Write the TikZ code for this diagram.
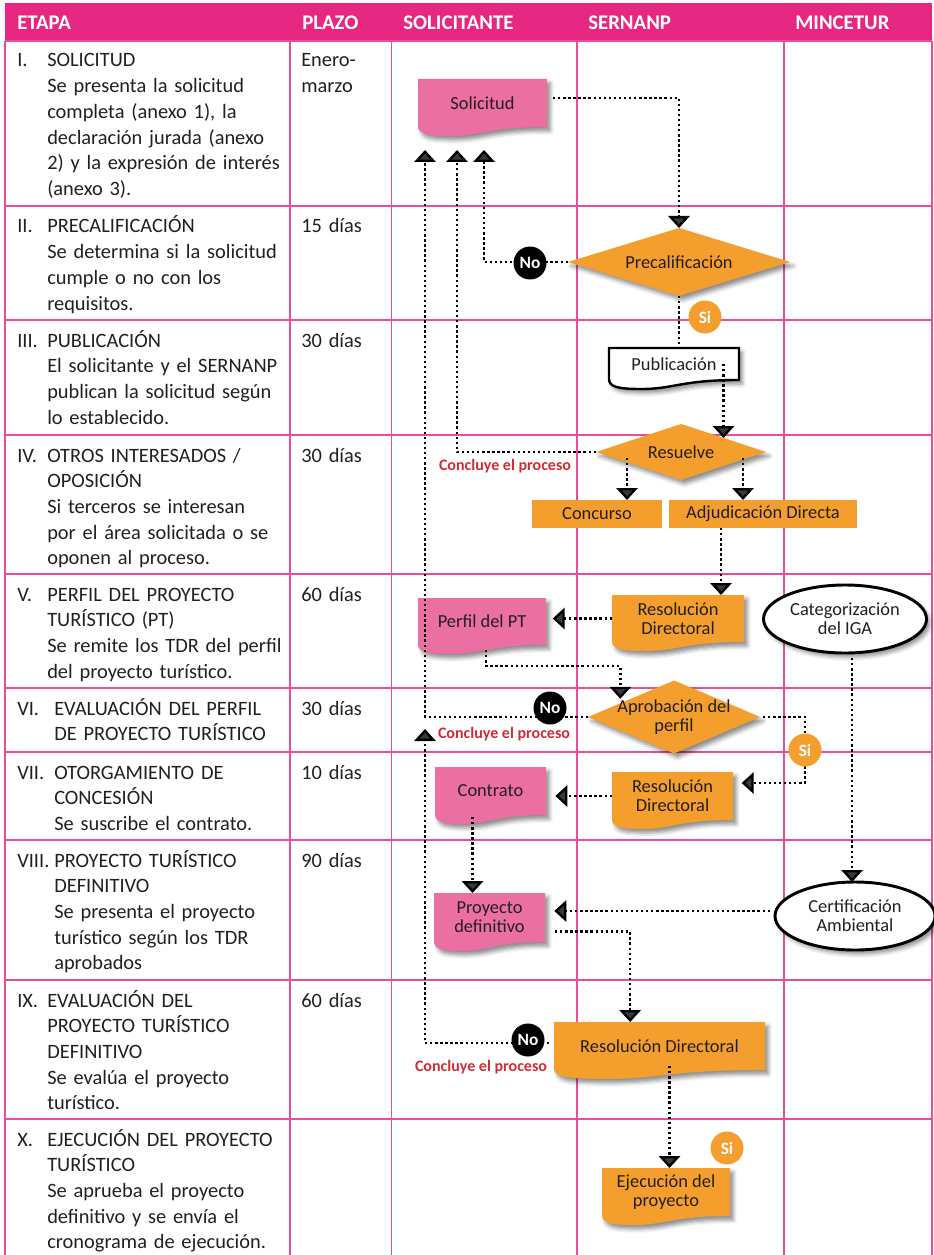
\documentclass[tikz,border=0pt]{standalone}
\usepackage{fontspec}
\setmainfont{Carlito}
\usetikzlibrary{arrows.meta,shapes.geometric,shadows.blur}

\definecolor{hdrpink}{RGB}{230,40,130}
\definecolor{gridpink}{RGB}{234,78,154}
\definecolor{docpink}{RGB}{236,111,162}
\definecolor{orng}{RGB}{244,159,45}
\definecolor{txtgray}{RGB}{35,31,32}
\definecolor{redtxt}{RGB}{208,44,52}

\newcommand{\flowfont}{\fontsize{13.8}{14.3}\selectfont}
% document symbol: name, x, y, width, height, look, text
\newcommand{\docnode}[7]{%
  \fill[#6] ({#2-#4/2},{#3-#5/2}) -- ({#2+#4/2},{#3-#5/2}) -- ({#2+#4/2},{#3+#5/2})
    .. controls ({#2+0.05*#4},{#3+#5/2}) and ({#2},{#3+#5/2+9}) .. ({#2-0.25*#4},{#3+#5/2+9})
    .. controls ({#2-0.43*#4},{#3+#5/2+9}) and ({#2-#4/2},{#3+#5/2+7}) .. ({#2-#4/2},{#3+#5/2-1}) -- cycle;
  \node[flow,minimum width=#4*0.75pt,minimum height=#5*0.75pt] (#1) at (#2,#3) {#7};
}

\tikzset{
  shad/.style={blur shadow={shadow xshift=2.5pt,shadow yshift=-3pt,shadow blur radius=3pt,shadow opacity=45}},
  docpk/.style={fill=docpink,shad},
  docor/.style={fill=orng,shad},
  docwh/.style={fill=white,draw=black,line width=1.8pt,shad}
}

\begin{document}
\begin{tikzpicture}[x=0.75pt,y=-0.75pt,
  tabline/.style={gridpink,line width=1.1pt},
  head/.style={anchor=base west,inner sep=0pt,text=white,font=\fontsize{15.6}{18}\selectfont\bfseries},
  num/.style={anchor=base west,inner sep=0pt,text=txtgray,font=\fontsize{15.3}{19.3}\selectfont},
  etapa/.style={num,align=left,text width=185pt},
  plazo/.style={num,align=left,text width=70pt},
  flow/.style={inner sep=0pt,outer sep=0pt,align=center,font=\flowfont,text=txtgray},
  dia/.style={flow,diamond,aspect=3,fill=orng,shad},
  ell/.style={flow,ellipse,fill=white,draw=black,line width=2.2pt,shad},
  obox/.style={flow,rectangle,fill=orng},
  nocirc/.style={circle,fill=black,text=white,inner sep=0pt,minimum size=24.75pt,font=\fontsize{13}{15}\selectfont\bfseries},
  sicirc/.style={nocirc,fill=orng},
  concl/.style={inner sep=0pt,text=redtxt,font=\fontsize{12}{14}\selectfont\bfseries},
  dotline/.style={line width=1.8pt,dash pattern=on 1.8pt off 2pt},
  conn/.style={dotline,-{Triangle[width=16pt,length=9pt]}}]
\useasboundingbox (0,0) rectangle (933,1255);

% table
\fill[hdrpink] (5,3) rectangle (932,41);
\foreach \y in {41,206,320,435,574,688,752,840,980,1119}
  \draw[tabline] (5,\y) -- (932,\y);
\foreach \x in {5,290,391.5,577,784,932}
  \draw[tabline] (\x,41) -- (\x,1255);

\node[head] (h1) at (17,30) {ETAPA};
\node[head] (h2) at (302,30) {PLAZO};
\node[head] (h3) at (403,30) {SOLICITANTE};
\node[head] (h4) at (588,30) {SERNANP};
\node[head] (h5) at (795,30) {MINCETUR};

% stages
\node[num] (n1) at (17,67) {I.};
\node[etapa] (e1) at (47,67) {SOLICITUD\\Se presenta la solicitud\\completa (anexo 1), la\\declaración jurada (anexo\\2) y la expresión de interés\\(anexo 3).};
\node[num] (n2) at (17,233) {II.};
\node[etapa] (e2) at (47,233) {PRECALIFICACIÓN\\Se determina si la solicitud\\cumple o no con los\\requisitos.};
\node[num] (n3) at (17,347) {III.};
\node[etapa] (e3) at (47,347) {PUBLICACIÓN\\El solicitante y el SERNANP\\publican la solicitud según\\lo establecido.};
\node[num] (n4) at (17,462) {IV.};
\node[etapa] (e4) at (47,462) {OTROS INTERESADOS /\\OPOSICIÓN\\Si terceros se interesan\\por el área solicitada o se\\oponen al proceso.};
\node[num] (n5) at (17,601) {V.};
\node[etapa] (e5) at (47,601) {PERFIL DEL PROYECTO\\TURÍSTICO (PT)\\Se remite los TDR del perfil\\del proyecto turístico.};
\node[num] (n6) at (17,715) {VI.};
\node[etapa] (e6) at (54,715) {EVALUACIÓN DEL PERFIL\\DE PROYECTO TURÍSTICO};
\node[num] (n7) at (17,779) {VII.};
\node[etapa] (e7) at (54,779) {OTORGAMIENTO DE\\CONCESIÓN\\Se suscribe el contrato.};
\node[num] (n8) at (17,867) {VIII.};
\node[etapa] (e8) at (54,867) {PROYECTO TURÍSTICO\\DEFINITIVO\\Se presenta el proyecto\\turístico según los TDR\\aprobados};
\node[num] (n9) at (17,1007) {IX.};
\node[etapa] (e9) at (47,1007) {EVALUACIÓN DEL\\PROYECTO TURÍSTICO\\DEFINITIVO\\Se evalúa el proyecto\\turístico.};
\node[num] (n10) at (17,1146) {X.};
\node[etapa] (e10) at (47,1146) {EJECUCIÓN DEL PROYECTO\\TURÍSTICO\\Se aprueba el proyecto\\definitivo y se envía el\\cronograma de ejecución.};

\node[plazo] (p1) at (301,67) {Enero-\\marzo};
\node[plazo] (p2) at (301,233) {15 días};
\node[plazo] (p3) at (301,347) {30 días};
\node[plazo] (p4) at (301,462) {30 días};
\node[plazo] (p5) at (301,601) {60 días};
\node[plazo] (p6) at (301,715) {30 días};
\node[plazo] (p7) at (301,779) {10 días};
\node[plazo] (p8) at (301,867) {90 días};
\node[plazo] (p9) at (301,1007) {60 días};

% flow
\docnode{sol}{482.5}{103}{129}{48}{docpk}{Solicitud}
\docnode{pub}{674}{364}{130}{32}{docwh}{Publicación}
\node[dia,minimum width=222*0.75pt,minimum height=68*0.75pt] (prec) at (679,262) {Precalificación};
\node[dia,minimum width=170*0.75pt,minimum height=56*0.75pt] (resu) at (681,452) {Resuelve};
\node[obox,minimum width=130*0.75pt,minimum height=28*0.75pt] (conc) at (597,514) {Concurso};
\node[obox,minimum width=188*0.75pt,minimum height=28*0.75pt] (adju) at (763,514) {Adjudicación Directa};
\docnode{perfil}{482}{621.5}{128}{47}{docpk}{Perfil del PT}
\docnode{rd1}{678}{618.5}{132}{47}{docor}{Resolución\\Directoral}
\node[ell,minimum width=163*0.75pt,minimum height=68*0.75pt] (cat) at (845,619) {Categorización\\del IGA};
\node[dia,aspect=2.36,inner sep=-6pt,minimum width=172*0.75pt,minimum height=73*0.75pt] (apro) at (674,717) {Aprobación del\\perfil};
\docnode{contr}{490.5}{791}{111}{48}{docpk}{Contrato}
\docnode{rd2}{672.5}{796}{121}{48}{docor}{Resolución\\Directoral}
\docnode{proy}{489.5}{917.5}{111}{49}{docpk}{Proyecto\\definitivo}
\node[ell,minimum width=160*0.75pt,minimum height=68*0.75pt] (cert) at (855,916) {Certificación\\Ambiental};
\docnode{rd3}{659.5}{1046}{211}{48}{docor}{Resolución Directoral}
\docnode{ejec}{666}{1192}{128}{48}{docor}{Ejecución del\\proyecto}

% connectors
\coordinate (a1) at (425,150);
\coordinate (a2) at (457,150);
\coordinate (a3) at (484,150);
\coordinate (a4) at (425,729);
\draw[conn] (sol.east) ++(6,-5) -| (prec.north);
\draw[conn] (prec.west) -| (a3);
\draw[dotline] (prec.south) -- (prec.south |- pub.north);
\draw[conn] (pub.center -| resu.north east) -- (resu.north east);
\draw[conn] (resu.center) ++(-54,6) coordinate (r1) -- (r1 |- conc.north);
\draw[conn] (resu.center) ++(62,6) coordinate (r2) -- (r2 |- adju.north);
\draw[conn] (resu.west) -| (a2);
\draw[conn] (adju.south) ++(-42,0) coordinate (r3) -- (r3 |- rd1.north);
\draw[conn,shorten >=5pt] (rd1.west) -- (rd1.west -| perfil.east);
\draw[conn] (perfil.south) ++(4,5) -- ++(0,16) -| ([xshift=-8pt]apro.north west);
\draw[conn] (apro.west) -| (a1);
\draw[conn,shorten >=6.5pt] (apro.east) ++(3,0) -- ++(42,0) |- ([yshift=9.75pt]rd2.east);
\draw[conn,shorten >=7pt] (rd2.west) -- (rd2.west -| contr.east);
\draw[conn] (contr.south) ++(-18,2) coordinate (r4) -- (r4 |- proy.north);
\draw[conn] (cat.south) ++(7,5) coordinate (r5) -- (r5 |- cert.north);
\draw[conn,shorten >=7pt] (cert.west) ++(-5,-5) coordinate (r6) -- (r6 -| proy.east);
\draw[conn] (proy.east) ++(10,14) -| ([xshift=-22pt]rd3.north);
\draw[conn] (rd3.west) ++(-5,-3) -| (a4);
\draw[conn] (rd3.center) ++(10,20) coordinate (r7) -- (r7 |- ejec.north);

% decisions
\node[nocirc] (no1) at (530,263) {No};
\node[sicirc] (si1) at (705,317) {Si};
\node[concl] (k1) at (505,466) {Concluye el proceso};
\node[nocirc] (no2) at (550,708) {No};
\node[concl] (k2) at (504,734) {Concluye el proceso};
\node[sicirc] (si2) at (805,750) {Si};
\node[nocirc] (no3) at (528,1040) {No};
\node[concl] (k3) at (481,1067) {Concluye el proceso};
\node[sicirc] (si3) at (727,1148) {Si};
\end{tikzpicture}
\end{document}
